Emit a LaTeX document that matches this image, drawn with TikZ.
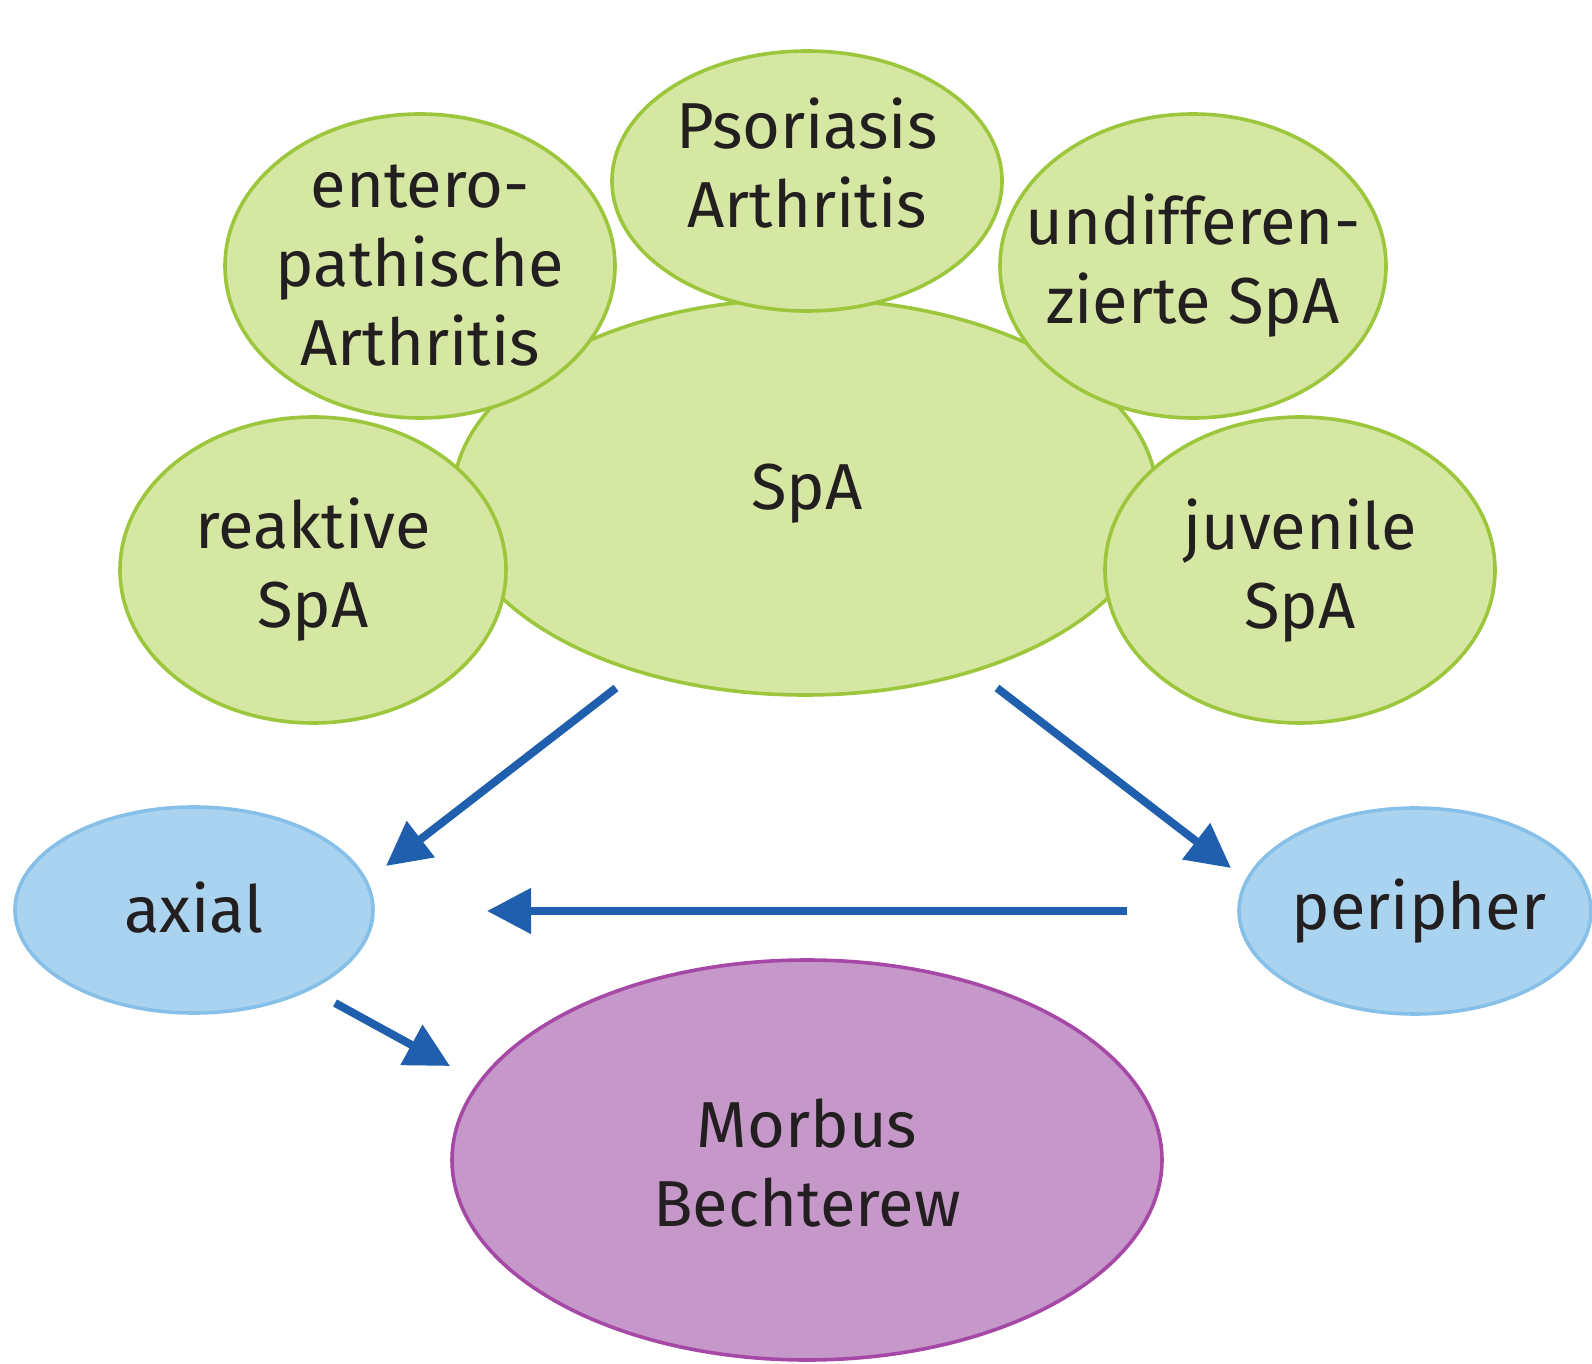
\documentclass[tikz,border=0pt]{standalone}
\usepackage{fontspec}
\setmainfont{Fira Sans}
\usetikzlibrary{shapes.geometric,arrows.meta}
\definecolor{gfill}{HTML}{D5E7A2}
\definecolor{gline}{HTML}{9CC63B}
\definecolor{bfill}{HTML}{AAD3EF}
\definecolor{bline}{HTML}{86C0E8}
\definecolor{pfill}{HTML}{C598C9}
\definecolor{pline}{HTML}{A548A6}
\definecolor{arrblue}{HTML}{1F5FAD}
\definecolor{txt}{HTML}{231F20}
\tikzset{
  ell/.style={ellipse, inner sep=0pt, line width=1.8pt},
  green/.style={ell, draw=gline, fill=gfill},
  blue/.style={ell, draw=bline, fill=bfill},
  purple/.style={ell, draw=pline, fill=pfill},
  arr/.style={draw=arrblue, line width=4pt, -{Triangle[length=22pt,width=22pt]}},
  lbl/.style={text=txt, align=center, inner sep=0pt, font=\fontsize{32.5}{39.5}\selectfont}
}
\begin{document}
\begin{tikzpicture}[x=0.5pt,y=-0.5pt]
\useasboundingbox (0,0) rectangle (1592,1364);
\node[green, minimum width=352pt, minimum height=198pt] (spa) at (805,497) {};
\node[green, minimum width=195pt, minimum height=130pt] (pso) at (807,181) {};
\node[green, minimum width=195pt, minimum height=152pt] (ent) at (420,266) {};
\node[green, minimum width=193pt, minimum height=152pt] (und) at (1193,266) {};
\node[green, minimum width=193pt, minimum height=153pt] (rea) at (313,570) {};
\node[green, minimum width=195pt, minimum height=153pt] (juv) at (1300,570) {};
\node[blue, minimum width=179pt, minimum height=103pt] (axial) at (194,910) {};
\node[blue, minimum width=176pt, minimum height=103pt] (peri) at (1415,911) {};
\node[purple, minimum width=355pt, minimum height=200pt] (mb) at (807,1160) {};
\node[lbl] (spatxt) at (807,494) {SpA};
\node[lbl] (psotxt) at (807,163) {Psoriasis\\Arthritis};
\node[lbl] (enttxt) at (420,266) {entero-\\pathische\\Arthritis};
\node[lbl] (undtxt) at (1193,266) {undifferen-\\zierte SpA};
\node[lbl] (reatxt) at (313,570) {reaktive\\SpA};
\node[lbl] (juvtxt) at (1300,571) {juvenile\\SpA};
\node[lbl] (axtxt) at (194,908) {axial};
\node[lbl] (peritxt) at (1419,911) {peripher};
\node[lbl] (mbtxt) at (807,1163) {Morbus\\Bechterew};
\coordinate (a1s) at (616,688);
\coordinate (a1e) at (386,866);
\coordinate (a2s) at (997,688);
\coordinate (a2e) at (1231,868);
\coordinate (a3s) at (1127,911);
\coordinate (a3e) at (487,911);
\coordinate (a4s) at (335,1003);
\coordinate (a4e) at (450,1066);
\draw[arr] (a1s) -- (a1e);
\draw[arr] (a2s) -- (a2e);
\draw[arr] (a3s) -- (a3e);
\draw[arr] (a4s) -- (a4e);
\end{tikzpicture}
\end{document}
